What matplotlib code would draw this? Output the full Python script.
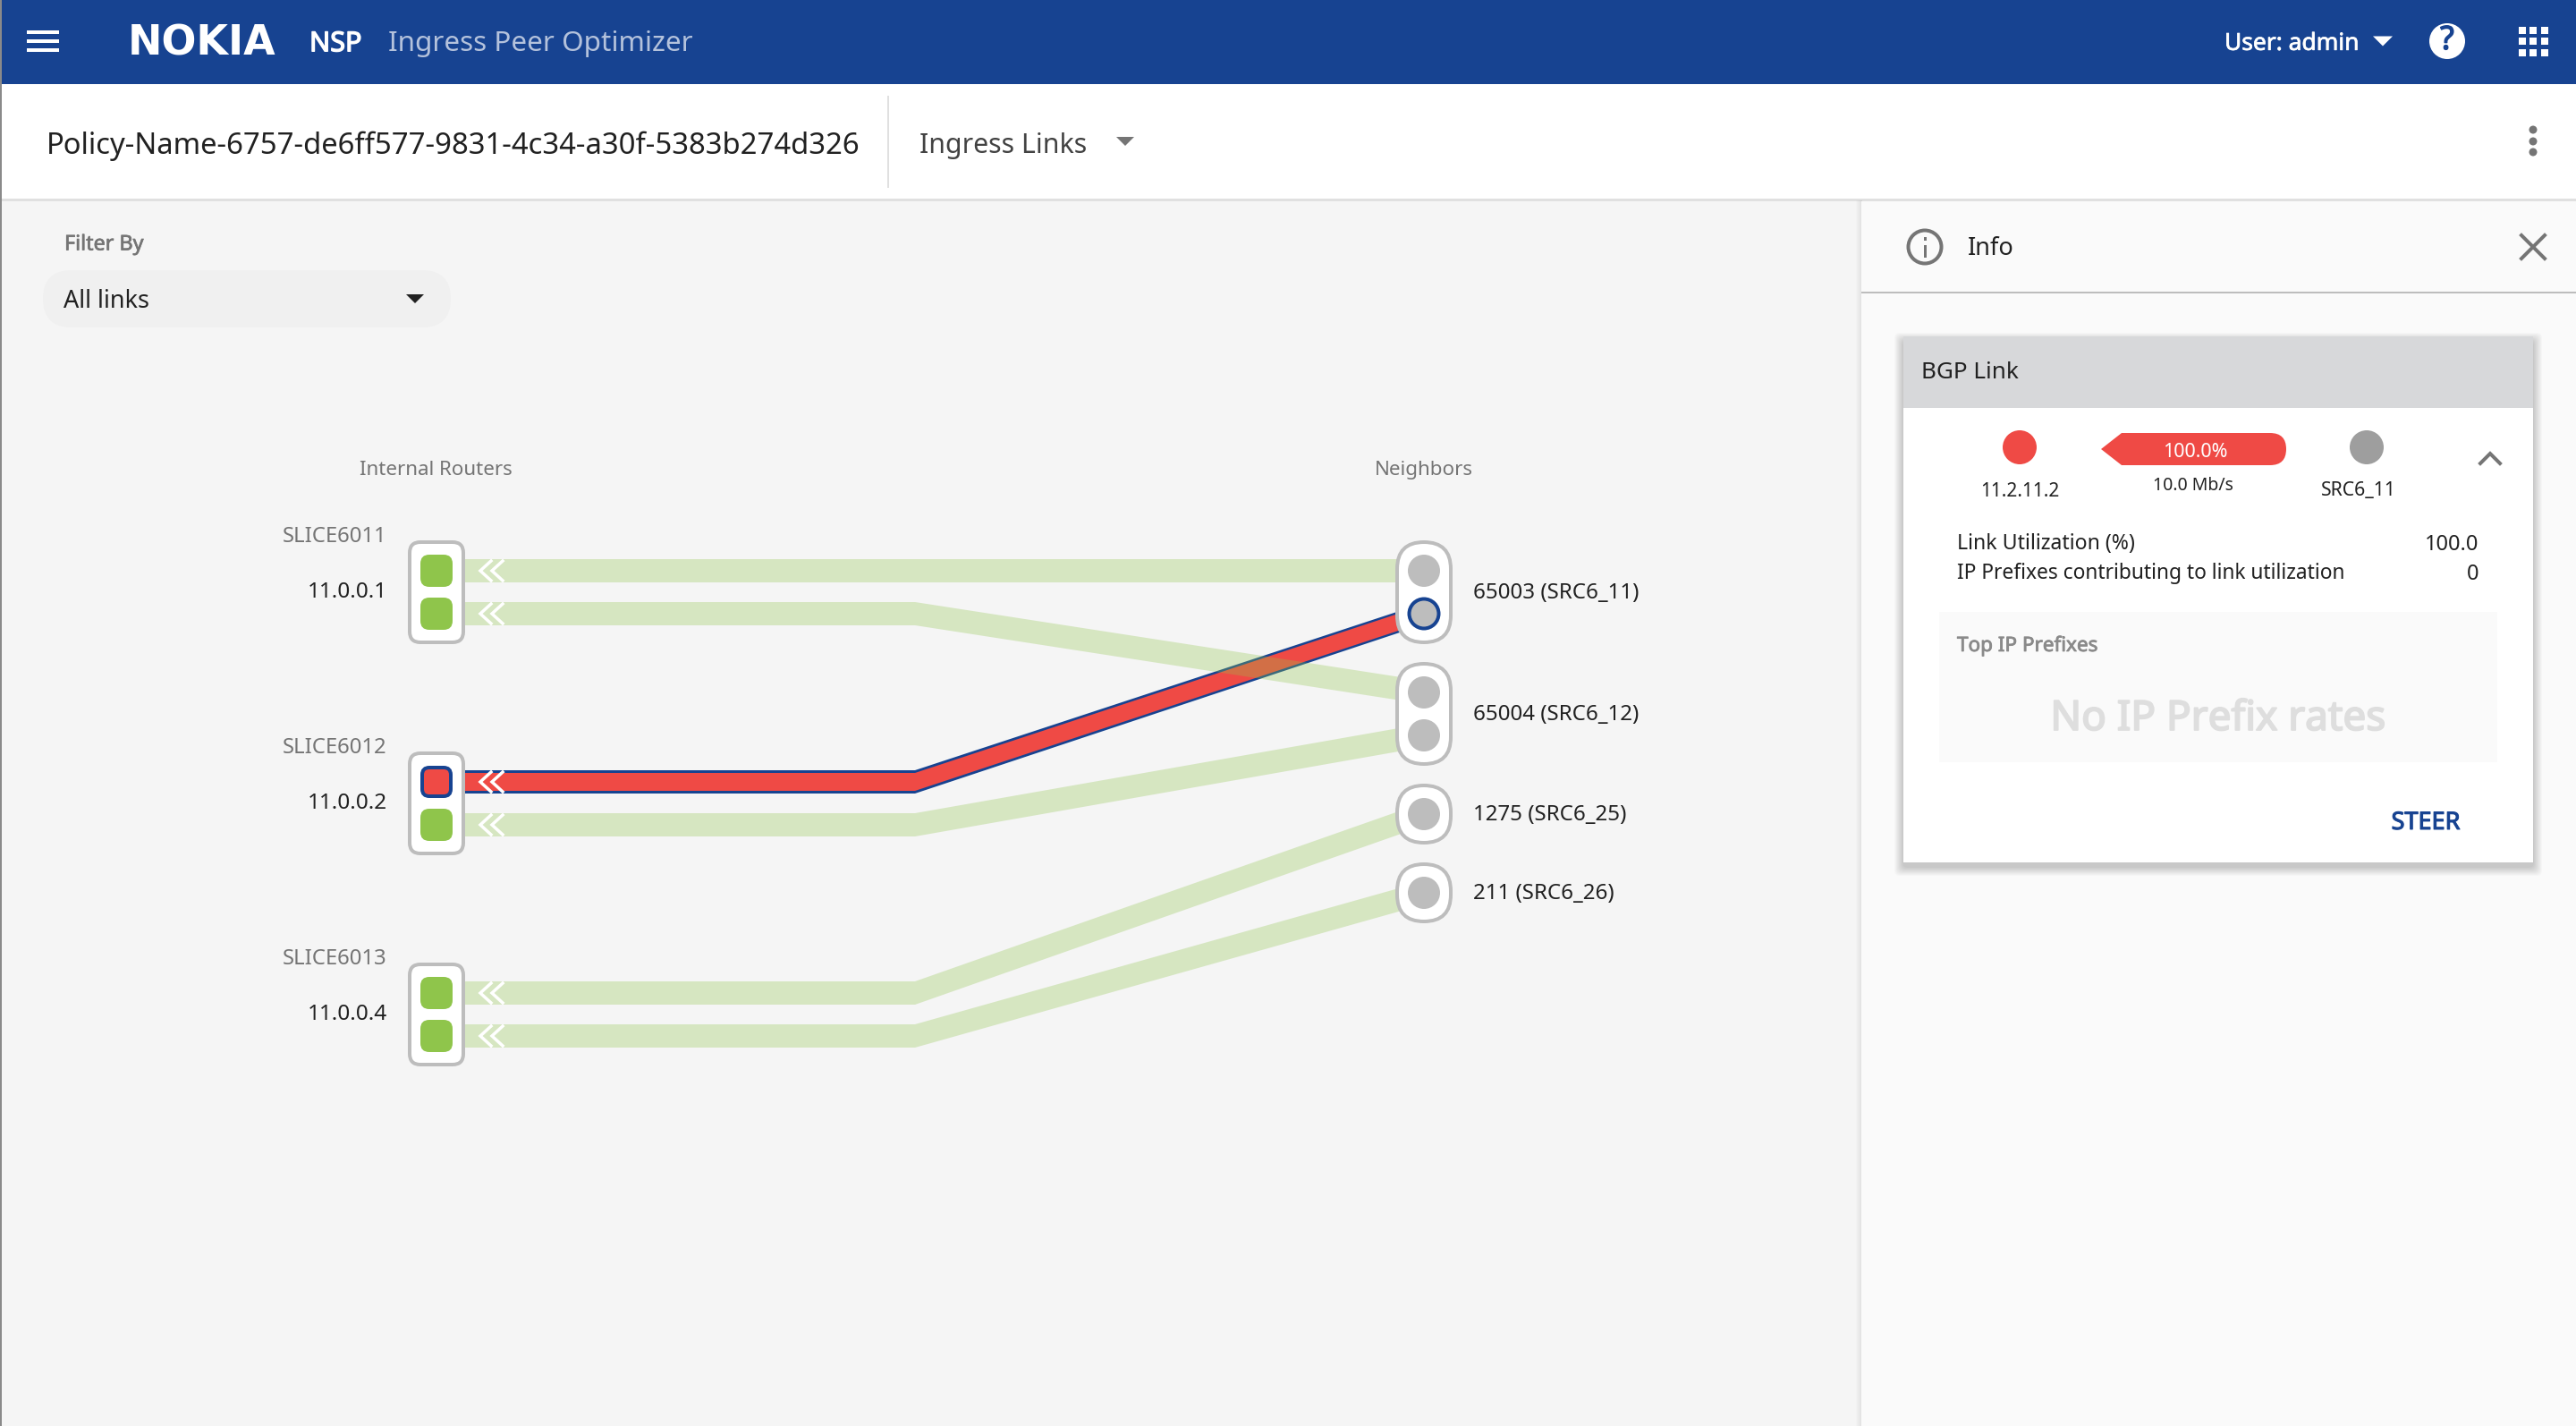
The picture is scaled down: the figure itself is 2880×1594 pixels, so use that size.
import matplotlib
matplotlib.use('Agg')
import matplotlib.pyplot as plt
import matplotlib.patheffects as pe
from matplotlib.patches import Rectangle, Circle, FancyBboxPatch, Polygon

plt.rcParams['font.family'] = ['Noto Sans', 'DejaVu Sans']

# Chart values
router_names = ['SLICE6011', 'SLICE6012', 'SLICE6013']
router_ips = ['11.0.0.1', '11.0.0.2', '11.0.0.4']
neighbor_labels = ['65003 (SRC6_11)', '65004 (SRC6_12)', '1275 (SRC6_25)', '211 (SRC6_26)']
neighbor_ports = [2, 2, 1, 1]
# router port -> neighbor port, top to bottom
link_from = [0, 1, 2, 3, 4, 5]
link_to = [0, 2, 1, 3, 4, 5]
link_selected = [False, False, True, False, False, False]
policy_name = 'Policy-Name-6757-de6ff577-9831-4c34-a30f-5383b274d326'
link_util = '100.0'
link_prefixes = '0'

# Colours
BLUE = '#174391'
RED = '#ef4a45'
GREEN = '#8fc54b'
NODE_GRAY = '#bdbdbd'
DARK = '#212121'
MID = '#757575'

W, H = 2880, 1594
fig = plt.figure(figsize=(W / 100, H / 100), dpi=100)
ax = fig.add_axes([0, 0, 1, 1])
ax.set_xlim(0, W)
ax.set_ylim(H, 0)
ax.axis('off')


def px(v):
    return v * 0.72


def rect(x0, y0, x1, y1, color, z=1, alpha=1):
    ax.add_patch(Rectangle((x0, y0), x1 - x0, y1 - y0, fc=color, ec='none', zorder=z, alpha=alpha))


def rrect(x0, y0, x1, y1, r, fc, ec='none', lw=0, z=3):
    ax.add_patch(FancyBboxPatch((x0, y0), x1 - x0, y1 - y0, boxstyle=f'round,pad=0,rounding_size={r}',
                                fc=fc, ec=ec, lw=px(lw), zorder=z))


# the Noto Sans here has one weight, so heavier text gets a thin stroke of its own colour
def txt(x, y, s, size, color=DARK, ha='left', heavy=0, z=10, **kw):
    t = ax.text(x, y + size * 0.15, s, fontsize=size, color=color, ha=ha, va='center', zorder=z, **kw)
    if heavy:
        t.set_path_effects([pe.withStroke(linewidth=heavy, foreground=color)])


def tri(x, y, hw, color, z=10):
    ax.add_patch(Polygon([(x - hw, y - hw / 2), (x + hw, y - hw / 2), (x, y + hw / 2)], fc=color, ec='none', zorder=z))


# band from router to neighbor, flat part half height h0, sloped part half height h1
def band(xs, ya, yb, h0, h1, color, z, alpha=1):
    pts = [(xs[0], ya - h0), (xs[1], ya - h0), (xs[2], yb - h1),
           (xs[2], yb + h1), (xs[1], ya + h0), (xs[0], ya + h0)]
    ax.add_patch(Polygon(pts, fc=color, ec='none', zorder=z, alpha=alpha))


# Page background
rect(0, 0, W, H, '#f5f5f5', z=0)
rect(0, 0, W, 94, BLUE)
rect(0, 94, W, 222, 'white')
rect(0, 222, W, 225, '#e0e0e0')
rect(0, 0, 2, H, '#8a8a8a', z=5)

# Top bar
for y in [36, 46, 56]:
    rect(30, y - 2, 66, y + 2, 'white', z=2)
txt(143, 44, 'NOKIA', 33, 'white', family='DejaVu Sans', fontweight='bold')
txt(346, 46, 'NSP', 22, 'white', heavy=1)
txt(434, 46, 'Ingress Peer Optimizer', 22.7, '#b4c2dc')
txt(2487, 46, 'User: admin', 19, 'white', heavy=0.5)
tri(2664, 46, 11, 'white')
ax.add_patch(Circle((2736, 46), 20, fc='white', ec='none', zorder=3))
txt(2736, 42, '?', 26, BLUE, ha='center', heavy=1)
for i in range(3):
    for j in range(3):
        rect(2816 + i * 12.3, 30 + j * 12.3, 2816 + i * 12.3 + 8, 30 + j * 12.3 + 8, 'white', z=3)

# Policy row
txt(52, 159.5, policy_name, 23.65)
rect(992, 107, 994, 210, '#e0e0e0')
txt(1028, 159.5, 'Ingress Links', 21.8, '#424242')
tri(1258, 158, 10, MID)
for y in [145, 158, 170]:
    ax.add_patch(Circle((2832, y), 4.5, fc=MID, ec='none', zorder=3))

# Filter
txt(72, 271, 'Filter By', 16.8, MID, heavy=0.5)
rrect(48, 302, 504, 366, 32, '#f0f0f0', z=2)
txt(71, 334.5, 'All links', 19.5)
tri(464, 334, 10, DARK)

# Right panel with shadow on its left edge
for i in range(6):
    rect(2080 - i, 224, 2082, H, '#000000', z=1, alpha=0.012)
rect(2081, 225, W, H, '#fafafa', z=1.5)
rect(2081, 326, W, 328, '#bdbdbd', z=2)
ax.add_patch(Circle((2152, 276), 18.5, fc='none', ec=MID, lw=px(4), zorder=3))
rect(2150.5, 274, 2153.5, 288, MID, z=3)
rect(2150.5, 265, 2153.5, 269, MID, z=3)
txt(2200, 275, 'Info', 19.5)
ax.plot([2819, 2845], [263, 289], color=MID, lw=px(4), zorder=3)
ax.plot([2819, 2845], [289, 263], color=MID, lw=px(4), zorder=3)

# Card
for i in range(1, 11):
    rrect(2128 - i, 376 - i + 6, 2832 + i, 964 + i + 5, 6, '#000000', z=2)
    ax.patches[-1].set_alpha(0.02)
rect(2128, 376, 2832, 456, '#d7d8da', z=3)
rect(2128, 456, 2832, 964, 'white', z=3)
txt(2148, 413.5, 'BGP Link', 18.8)
ax.add_patch(Circle((2258, 500), 19, fc=RED, ec='none', zorder=4))
ax.add_patch(Circle((2646, 500), 19, fc='#9e9e9e', ec='none', zorder=4))
rrect(2400, 484, 2556, 520, 18, RED, z=4)
ax.add_patch(Polygon([(2349, 502), (2372, 484), (2420, 484), (2420, 520), (2372, 520)], fc=RED, ec='none', zorder=4))
txt(2454, 503, '100.0%', 15.5, 'white', ha='center')
txt(2258, 547, '11.2.11.2', 15, ha='center')
txt(2452, 541, '10.0 Mb/s', 14, ha='center')
txt(2637, 546.5, 'SRC6_11', 15.3, ha='center')
ax.plot([2773, 2784, 2795], [518, 507, 518], color=MID, lw=px(4), zorder=5, solid_joinstyle='miter')
txt(2188, 606, 'Link Utilization (%)', 16.6)
txt(2188, 639, 'IP Prefixes contributing to link utilization', 16.4)
txt(2771, 606, link_util, 17, ha='right')
txt(2771, 639, link_prefixes, 17, ha='right')
rect(2168, 684, 2792, 852, '#fafafa', z=4)
txt(2188, 720, 'Top IP Prefixes', 16.2, '#8a8a8a', heavy=0.6)
txt(2480, 799, 'No IP Prefix rates', 33, '#dedede', ha='center', heavy=1.4)
txt(2712, 917, 'STEER', 19.5, BLUE, ha='center', heavy=0.8)

# Graph layout
BEND_X = 1023
router_tops = [604, 840, 1076]
box_h = 116
router_ports_y = []
for top in router_tops:
    router_ports_y += [top + 34, top + 82]
neighbor_tops = [604, 740, 876, 964]
neighbor_ports_y = []
for top, n in zip(neighbor_tops, neighbor_ports):
    if n == 2:
        neighbor_ports_y += [top + 34, top + 82]
    else:
        neighbor_ports_y += [top + 34]

txt(487, 523.5, 'Internal Routers', 16.1, MID, ha='center')
txt(1592, 523.5, 'Neighbors', 16.1, MID, ha='center')

# Links, the green ones are see-through and lie over the selected one
for a, b, sel in zip(link_from, link_to, link_selected):
    ya, yb = router_ports_y[a], neighbor_ports_y[b]
    xs = [520, BEND_X, 1592]
    if sel:
        band(xs, ya, yb, 13, 12, BLUE, 2.4)
        band(xs, ya, yb, 10, 9.5, RED, 2.5)
    else:
        band(xs, ya, yb, 13, 13, GREEN, 2.7, alpha=0.3)
    for cx in [537, 550]:
        ax.plot([cx + 12, cx, cx + 12], [ya - 11, ya, ya + 11], color='white', lw=px(3.5),
                solid_joinstyle='miter', zorder=3)

# Router nodes
for top, name, ip in zip(router_tops, router_names, router_ips):
    rrect(458, top + 2, 518, top + box_h - 2, 12, 'white', NODE_GRAY, 4, z=4)
    txt(432.5, top - 7, name, 17.2, MID, ha='right')
    txt(433, top + 55, ip, 17.6, ha='right')
for i, y in enumerate(router_ports_y):
    if link_selected[link_from.index(i)]:
        rrect(472, y - 16, 504, y + 16, 8, RED, BLUE, 4, z=5)
    else:
        rrect(470, y - 18, 506, y + 18, 10, GREEN, z=5)

# Neighbor nodes
selected_port = link_to[link_selected.index(True)]
label_y = [660, 796, 908, 996]
for top, n, lab, ly in zip(neighbor_tops, neighbor_ports, neighbor_labels, label_y):
    h = box_h if n == 2 else 68
    rrect(1562, top + 2, 1622, top + h - 2, 30, 'white', NODE_GRAY, 4, z=4)
    txt(1647, ly, lab, 17.35)
for i, y in enumerate(neighbor_ports_y):
    if i == selected_port:
        ax.add_patch(Circle((1592, y), 16.5, fc=NODE_GRAY, ec=BLUE, lw=px(4), zorder=5))
    else:
        ax.add_patch(Circle((1592, y), 18, fc=NODE_GRAY, ec='none', zorder=5))

fig.savefig('out.png', dpi=100)
